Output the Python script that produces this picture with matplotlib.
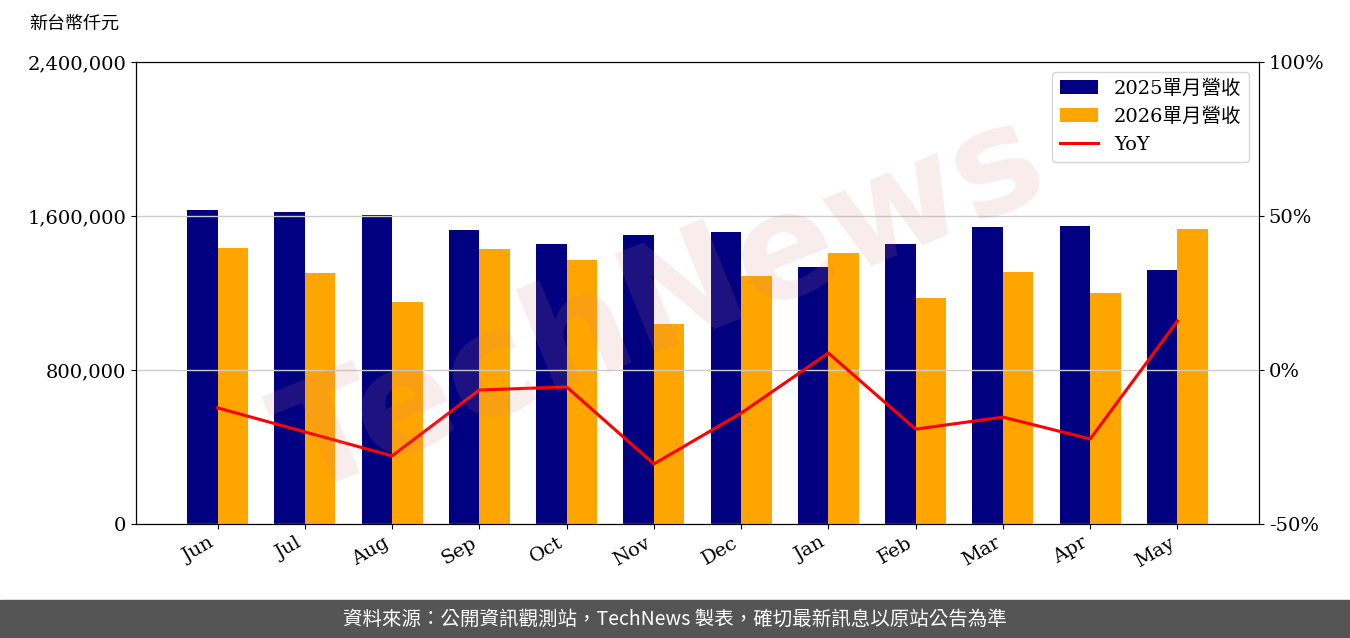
import matplotlib
matplotlib.use("Agg")
import matplotlib.pyplot as plt
import numpy as np
from matplotlib.ticker import FuncFormatter

months = ["Jun", "Jul", "Aug", "Sep", "Oct", "Nov", "Dec", "Jan", "Feb", "Mar", "Apr", "May"]
rev_2025 = [1631000, 1621000, 1605000, 1527000, 1455000, 1501000, 1517000, 1335000, 1455000, 1543000, 1548000, 1320000]
rev_2026 = [1434000, 1304000, 1153000, 1429000, 1371000, 1039000, 1288000, 1408000, 1174000, 1309000, 1200000, 1533000]
yoy = [-12.3, -20.1, -27.9, -6.5, -5.5, -30.5, -14.0, 5.5, -19.2, -15.3, -22.4, 15.9]

plt.rcParams['font.family'] = ['DejaVu Serif', 'Noto Sans CJK TC']

fig = plt.figure(figsize=(13.5, 6.38), dpi=100)
ax = fig.add_axes([0.1007, 0.1787, 0.8319, 0.7241])
x = np.arange(len(months))
w = 0.35
ax.bar(x - w / 2, rev_2025, w, color="#000080", label="2025單月營收", zorder=2)
ax.bar(x + w / 2, rev_2026, w, color="#FFA500", label="2026單月營收", zorder=2)
ax.set_ylim(0, 2400000)
ax.set_yticks([0, 800000, 1600000, 2400000])
ax.yaxis.set_major_formatter(FuncFormatter(lambda v, p: f"{int(v):,}"))
ax.set_xticks(x)
ax.set_xticklabels(months, rotation=30, ha="right")
ax.tick_params(labelsize=14)

ax2 = ax.twinx()
ax2.plot(x, yoy, color="red", lw=2.2, label="YoY", zorder=3)
ax2.set_ylim(-50, 100)
ax2.set_yticks([-50, 0, 50, 100])
ax2.yaxis.set_major_formatter(FuncFormatter(lambda v, p: f"{int(v)}%"))
ax2.tick_params(labelsize=14)
ax2.grid(axis="y", color="#cccccc", lw=1)
ax2.set_zorder(1)
ax.set_zorder(0)

h1, l1 = ax.get_legend_handles_labels()
h2, l2 = ax2.get_legend_handles_labels()
ax2.legend(h1 + h2, l1 + l2, loc="upper right", fontsize=14)

fig.text(0.022, 0.955, "新台幣仟元", fontsize=13, family=['Noto Sans CJK TC'])
fig.text(0.49, 0.52, "TechNews", fontsize=105, color="#d08080", alpha=0.15,
         rotation=22, ha="center", va="center", fontweight="bold", family="DejaVu Sans")

fig.patches.append(plt.Rectangle((0, 0), 1, 0.06, transform=fig.transFigure, color="#555555", zorder=0))
fig.text(0.5, 0.03, "資料來源：公開資訊觀測站，TechNews 製表，確切最新訊息以原站公告為準",
         color="white", fontsize=14, ha="center", va="center", family=['Noto Sans CJK TC'])

fig.savefig("out.png", dpi=100)
